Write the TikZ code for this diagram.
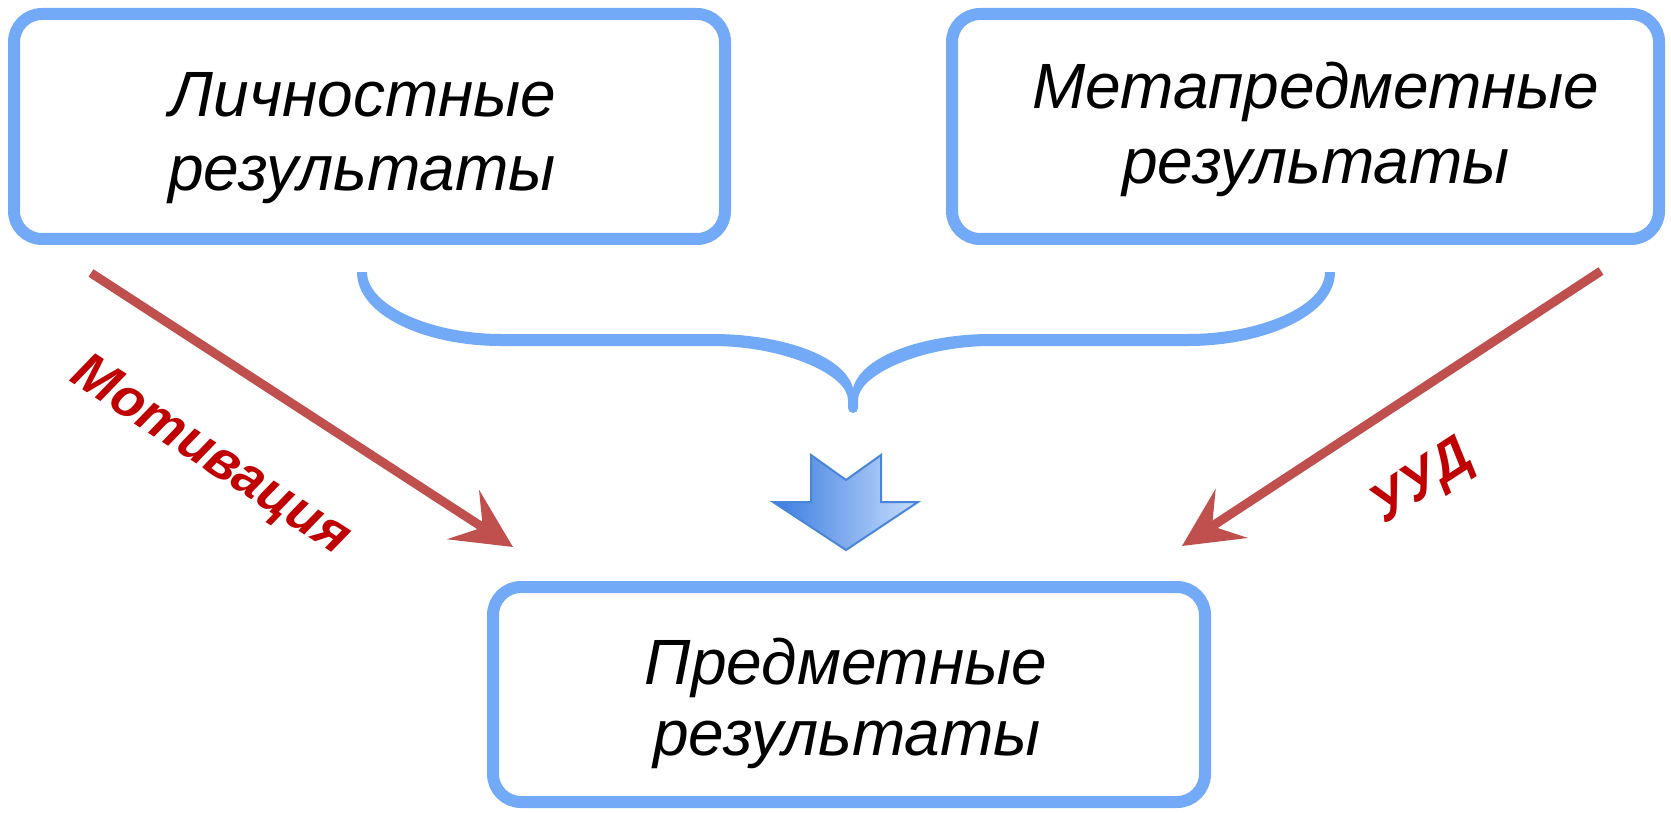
\documentclass[tikz,border=0pt]{standalone}
\usepackage{fontspec}
\setmainfont{Liberation Sans}
\usetikzlibrary{arrows.meta}
\definecolor{boxblue}{RGB}{114,170,248}
\definecolor{arrred}{RGB}{192,80,77}
\definecolor{lblred}{RGB}{192,0,0}
\definecolor{darrL}{RGB}{58,123,224}
\definecolor{darrR}{RGB}{200,222,252}
\definecolor{darrB}{RGB}{74,134,216}
\tikzset{
  resbox/.style={draw=boxblue, line width=12pt, rounded corners=28pt, fill=white, inner sep=0pt},
  restext/.style={anchor=base, inner sep=0pt, font=\itshape\fontsize{64}{70}\selectfont},
  redarrow/.style={draw=arrred, line width=9pt, -{Stealth[length=59pt, width=58pt, inset=23pt]}},
  lbl/.style={text=lblred, inner sep=0pt, font=\bfseries\itshape\fontsize{54}{60}\selectfont}
}
\begin{document}
\begin{tikzpicture}[x=1pt, y=-1pt]
\useasboundingbox (0,0) rectangle (1671,813);
\fill[white] (0,0) rectangle (1671,813);
% boxes
\node[resbox, minimum width=711pt, minimum height=225pt] (lbox) at (369.5,126.5) {};
\node[resbox, minimum width=707pt, minimum height=225pt] (rbox) at (1305.5,126.5) {};
\node[resbox, minimum width=712pt, minimum height=215pt] (bbox) at (849,694.5) {};
% texts
\node[restext] (l1) at (363,117) {Личностные};
\node[restext] (l2) at (362,191) {результаты};
\node[restext] (r1) at (1316,109) {Метапредметные};
\node[restext] (r2) at (1316,184) {результаты};
\node[restext] (b1) at (846,684) {Предметные};
\node[restext] (b2) at (847,755) {результаты};
% brace
\fill[boxblue] (357,272) .. controls (357,316) and (426,346) .. (501,346) -- (712,346)
  .. controls (785,346) and (848,375) .. (848,400) -- (848,408)
  arc[start angle=180, end angle=0, radius=5] -- (858,400)
  .. controls (858,375) and (921,346) .. (991,346) -- (1188,346)
  .. controls (1263,346) and (1335,316) .. (1335,272) -- (1325,272)
  .. controls (1325,306) and (1260,334) .. (1188,334) -- (991,334)
  .. controls (925,334) and (862,355) .. (853,388)
  .. controls (844,355) and (781,334) .. (712,334) -- (501,334)
  .. controls (432,334) and (367,306) .. (367,272) -- cycle;
% down arrow
\shade[left color=darrL, right color=darrR, draw=darrB, line width=2pt, line join=miter]
  (811,455) -- (846,480) -- (881,455) -- (881,502) -- (918,502) -- (846,550)
  -- (773,502) -- (811,502) -- cycle;
% red arrows
\coordinate (ma) at (91,273);
\coordinate (mb) at (513,547);
\coordinate (ua) at (1601,271);
\coordinate (ub) at (1182,546);
\draw[redarrow] (ma) -- (mb);
\draw[redarrow] (ua) -- (ub);
% labels
\node[lbl, rotate=-33] (mot) at (210,457) {Мотивация};
\node[lbl, rotate=33] (uud) at (1423,483) {УУД};
\end{tikzpicture}
\end{document}
